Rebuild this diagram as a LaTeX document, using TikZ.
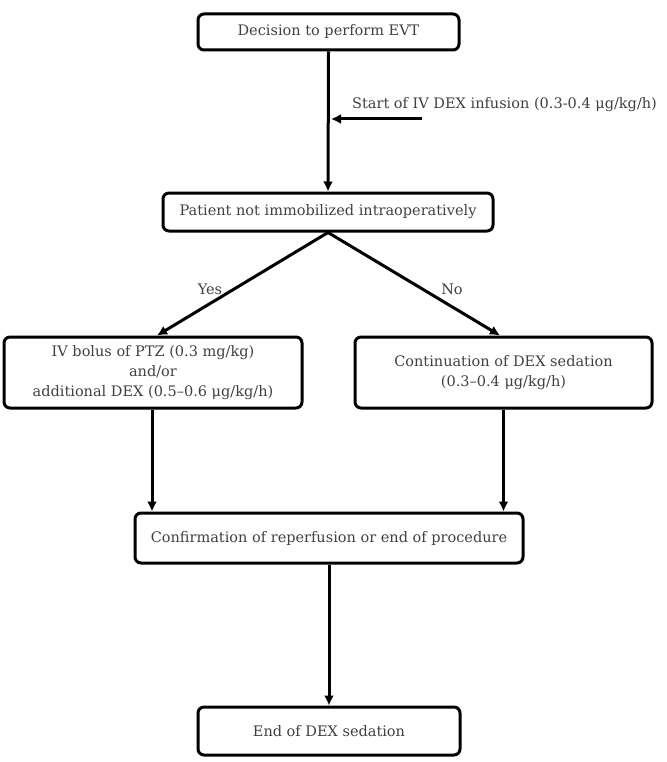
\documentclass[tikz,border=0pt]{standalone}
\usepackage{fontspec}
\setmainfont{DejaVu Serif}
\usetikzlibrary{arrows.meta,calc}
\begin{document}
\begin{tikzpicture}[x=1pt,y=-1pt,
  box/.style={draw=black,line width=3pt,rounded corners=6pt,align=center,inner sep=0pt,
    font=\fontsize{14.5}{20}\selectfont,text=black!75},
  lbl/.style={font=\fontsize{14.5}{17}\selectfont,text=black!75,inner sep=0pt},
  arr/.style={line width=3pt,-{Latex[length=10pt,width=10pt]}}]
\useasboundingbox (0,0) rectangle (666,762);
\node[box,minimum width=261pt,minimum height=36pt] (a) at (328.5,32) {Decision to perform EVT};
\node[box,minimum width=330pt,minimum height=38pt] (b) at (328,212) {Patient not immobilized intraoperatively};
\node[box,minimum width=298pt,minimum height=71pt] (l) at (153,372.5) {IV bolus of PTZ (0.3 mg/kg)\\and/or\\additional DEX (0.5–0.6 μg/kg/h)};
\node[box,minimum width=297pt,minimum height=71pt] (r) at (503.5,372.5) {Continuation of DEX sedation\\(0.3–0.4 μg/kg/h)};
\node[box,minimum width=388pt,minimum height=50pt] (c) at (329,538) {Confirmation of reperfusion or end of procedure};
\node[box,minimum width=262pt,minimum height=48pt] (e) at (329,731) {End of DEX sedation};
\node[lbl,anchor=west] (s) at (352,105) {Start of IV DEX infusion (0.3-0.4 μg/kg/h)};
\node[lbl] (yes) at (210,289) {Yes};
\node[lbl] (no) at (452,289) {No};
\draw[arr] (a.south) -- (b.north);
\coordinate (sa) at (422,119);
\coordinate (st) at (331,119);
\draw[arr] (sa) -- (st);
\coordinate (yl) at ($(l.north)+(4,0)$);
\coordinate (nr) at ($(r.north)+(-3.5,0)$);
\draw[arr] (b.south) -- (yl);
\draw[arr] (b.south) -- (nr);
\draw[arr] ($(l.south)+(-1,0)$) -- ($(l.south |- c.north)+(-1,0)$);
\draw[arr] (r.south) -- (r.south |- c.north);
\draw[arr] (c.south) -- (e.north);
\end{tikzpicture}
\end{document}
